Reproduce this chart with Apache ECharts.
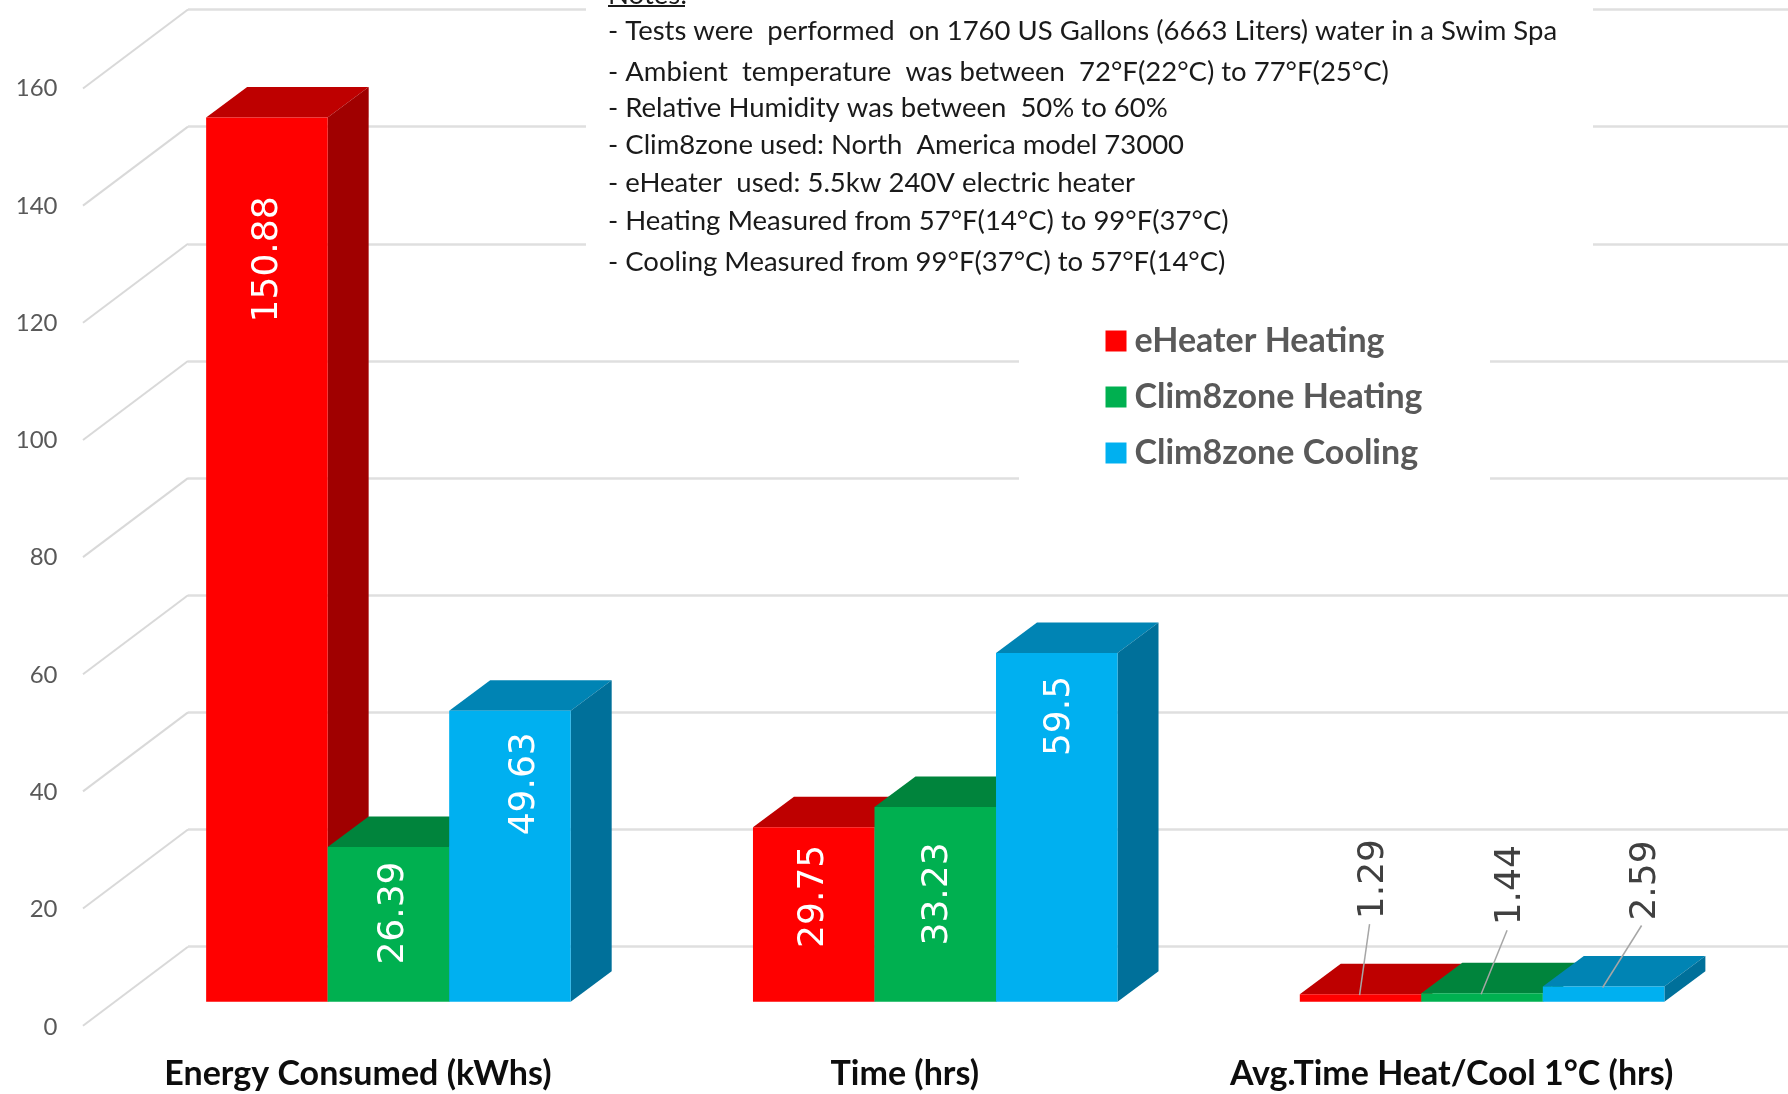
<!DOCTYPE html>
<html>
<head>
<meta charset="utf-8">
<style>html,body{margin:0;padding:0;background:#fff}#c{width:1788px;height:1094px}</style>
<script src="https://cdn.jsdelivr.net/npm/echarts@6/dist/echarts.min.js"></script>
</head>
<body>
<div id="c"></div>
<script>
const categories = ['Energy Consumed (kWhs)', 'Time (hrs)', 'Avg.Time Heat/Cool 1°C (hrs)'];
const eHeaterHeating = [150.88, 29.75, 1.29];
const clim8zoneHeating = [26.39, 33.23, 1.44];
const clim8zoneCooling = [49.63, 59.5, 2.59];
const yTicks = [0, 20, 40, 60, 80, 100, 120, 140, 160];
const notes = [
  '- Tests were  performed  on 1760 US Gallons (6663 Liters) water in a Swim Spa',
  '- Ambient  temperature  was between  72°F(22°C) to 77°F(25°C)',
  '- Relative Humidity was between  50% to 60%',
  '- Clim8zone used: North  America model 73000',
  '- eHeater  used: 5.5kw 240V electric heater',
  '- Heating Measured from 57°F(14°C) to 99°F(37°C)',
  '- Cooling Measured from 99°F(37°C) to 57°F(14°C)'
];

// layout
const noteY = [31, 72, 108, 145, 183, 221, 262];
const labelShift = {
  'eHeater Heating':  [[-3, 141], [-4, 68], [9, -116]],
  'Clim8zone Heating':[[1, 65], [-2, 86], [25, -109]],
  'Clim8zone Cooling':[[11, 72], [-1, 62], [38, -107]]
};
const DEPTH_X = 41, DEPTH_Y = 30.5, WALL_X = -105, WALL_Y = 79, GLYPH_NUDGE = 4;
const SANS = 'Lato, "Open Sans", sans-serif';

function barSeries(name, values, idx, front, top, side) {
  return {
    name, type: 'custom', coordinateSystem: 'cartesian2d', xAxisIndex: 2, yAxisIndex: 2,
    itemStyle: { color: front }, z: 5 + idx, clip: false, silent: true,
    encode: { x: 0, y: 1 },
    data: values.map((v, i) => [i, v]),
    renderItem(params, api) {
      const cat = api.value(0), val = api.value(1);
      const t = api.coord([cat, val]), b = api.coord([cat, 0]);
      const w = api.size([1, 0])[0] / 4.5;
      const l = t[0] + (idx - 1.5) * w, r = l + w, cx = l + w / 2;
      const [sx, sy] = labelShift[name][cat];
      const lx = cx + sx, ly = t[1] + sy;
      const outside = sy < 0;
      const kids = [
        { type: 'polygon', shape: { points: [[l, t[1]], [l + DEPTH_X, t[1] - DEPTH_Y], [r + DEPTH_X, t[1] - DEPTH_Y], [r, t[1]]] }, style: { fill: top } },
        { type: 'polygon', shape: { points: [[r, t[1]], [r + DEPTH_X, t[1] - DEPTH_Y], [r + DEPTH_X, b[1] - DEPTH_Y], [r, b[1]]] }, style: { fill: side } },
        { type: 'rect', shape: { x: l, y: t[1], width: w, height: b[1] - t[1] }, style: { fill: front } }
      ];
      if (outside) {
        kids.push({ type: 'line', shape: { x1: lx, y1: ly + 46, x2: cx - 1, y2: t[1] + 1 }, style: { stroke: '#A6A6A6', lineWidth: 1.5 } });
      }
      kids.push({
        type: 'text', x: lx + GLYPH_NUDGE, y: ly + 1, rotation: Math.PI / 2,
        style: { text: String(val), fill: outside ? '#404040' : '#FFFFFF', font: '36px "DejaVu Sans", sans-serif', align: 'center', verticalAlign: 'middle' }
      });
      return { type: 'group', children: kids };
    }
  };
}

const hiddenCat = { type: 'category', data: categories, axisLine: { show: false }, axisTick: { show: false }, axisLabel: { show: false } };
const hiddenVal = { type: 'value', min: 0, max: 160, interval: 20, axisLine: { show: false }, axisTick: { show: false }, axisLabel: { show: false }, splitLine: { show: false } };

const graphics = [
  { type: 'rect', z: 3, shape: { x: 586, y: 0, width: 1007, height: 290 }, style: { fill: '#fff' } },
  { type: 'rect', z: 3, shape: { x: 1019, y: 340, width: 471, height: 150 }, style: { fill: '#fff' } },
  { type: 'text', z: 4, x: 608, y: -5, style: { text: 'Notes:', font: '27.5px ' + SANS, fill: '#1A1A1A', verticalAlign: 'middle' } },
  { type: 'line', z: 4, shape: { x1: 608, y1: 6, x2: 685, y2: 6 }, style: { stroke: '#1A1A1A', lineWidth: 2 } }
].concat(notes.map((n, i) => ({
  type: 'text', z: 4, x: 608, y: noteY[i],
  style: { text: n, font: '27.5px ' + SANS, fill: '#1A1A1A', verticalAlign: 'middle' }
})));

const option = {
  backgroundColor: '#fff',
  animation: false,
  grid: [
    { left: 188, right: 0, top: 9.5, height: 937.2 },
    { left: 84.5, width: 1640.5, top: 88.5, height: 938.5 },
    { left: 115, width: 1640.5, top: 64, height: 937.7 }
  ],
  xAxis: [
    Object.assign({}, hiddenCat, { gridIndex: 0 }),
    Object.assign({}, hiddenCat, { gridIndex: 1, axisLabel: { show: true, interval: 0, margin: 30, color: '#0D0D0D', fontFamily: SANS, fontWeight: 'bold', fontSize: 34 } }),
    Object.assign({}, hiddenCat, { gridIndex: 2 })
  ],
  yAxis: [
    Object.assign({}, hiddenVal, { gridIndex: 0, splitLine: { show: true, lineStyle: { color: '#DFDFDF', width: 2.5 } } }),
    Object.assign({}, hiddenVal, { gridIndex: 1, axisLabel: { show: true, margin: 27, color: '#595959', fontFamily: SANS, fontSize: 24 } }),
    Object.assign({}, hiddenVal, { gridIndex: 2 })
  ],
  legend: {
    left: 1105.5, top: 324, padding: 0, orient: 'vertical', itemWidth: 21, itemHeight: 21, itemGap: 22,
    selectedMode: false, icon: 'rect', z: 6,
    data: ['eHeater Heating', 'Clim8zone Heating', 'Clim8zone Cooling'],
    textStyle: { color: '#595959', fontFamily: SANS, fontWeight: 'bold', fontSize: 34, padding: [0, 0, 0, 3] }
  },
  graphic: graphics,
  series: [
    {
      name: 'wall', type: 'custom', coordinateSystem: 'cartesian2d', xAxisIndex: 0, yAxisIndex: 0,
      z: 1, clip: false, silent: true, encode: { y: 0 },
      data: yTicks.map(v => [v]),
      renderItem(params, api) {
        const left = params.coordSys.x;
        const y = api.coord([0, api.value(0)])[1];
        return { type: 'line', shape: { x1: left, y1: y, x2: left + WALL_X, y2: y + WALL_Y }, style: { stroke: '#D9D9D9', lineWidth: 2 } };
      }
    },
    barSeries('eHeater Heating', eHeaterHeating, 0, '#FF0000', '#BE0000', '#A00000'),
    barSeries('Clim8zone Heating', clim8zoneHeating, 1, '#00B050', '#00843C', '#006E32'),
    barSeries('Clim8zone Cooling', clim8zoneCooling, 2, '#00B0F0', '#0084B4', '#00709A')
  ]
};
echarts.init(document.getElementById('c')).setOption(option);
</script>
</body>
</html>
